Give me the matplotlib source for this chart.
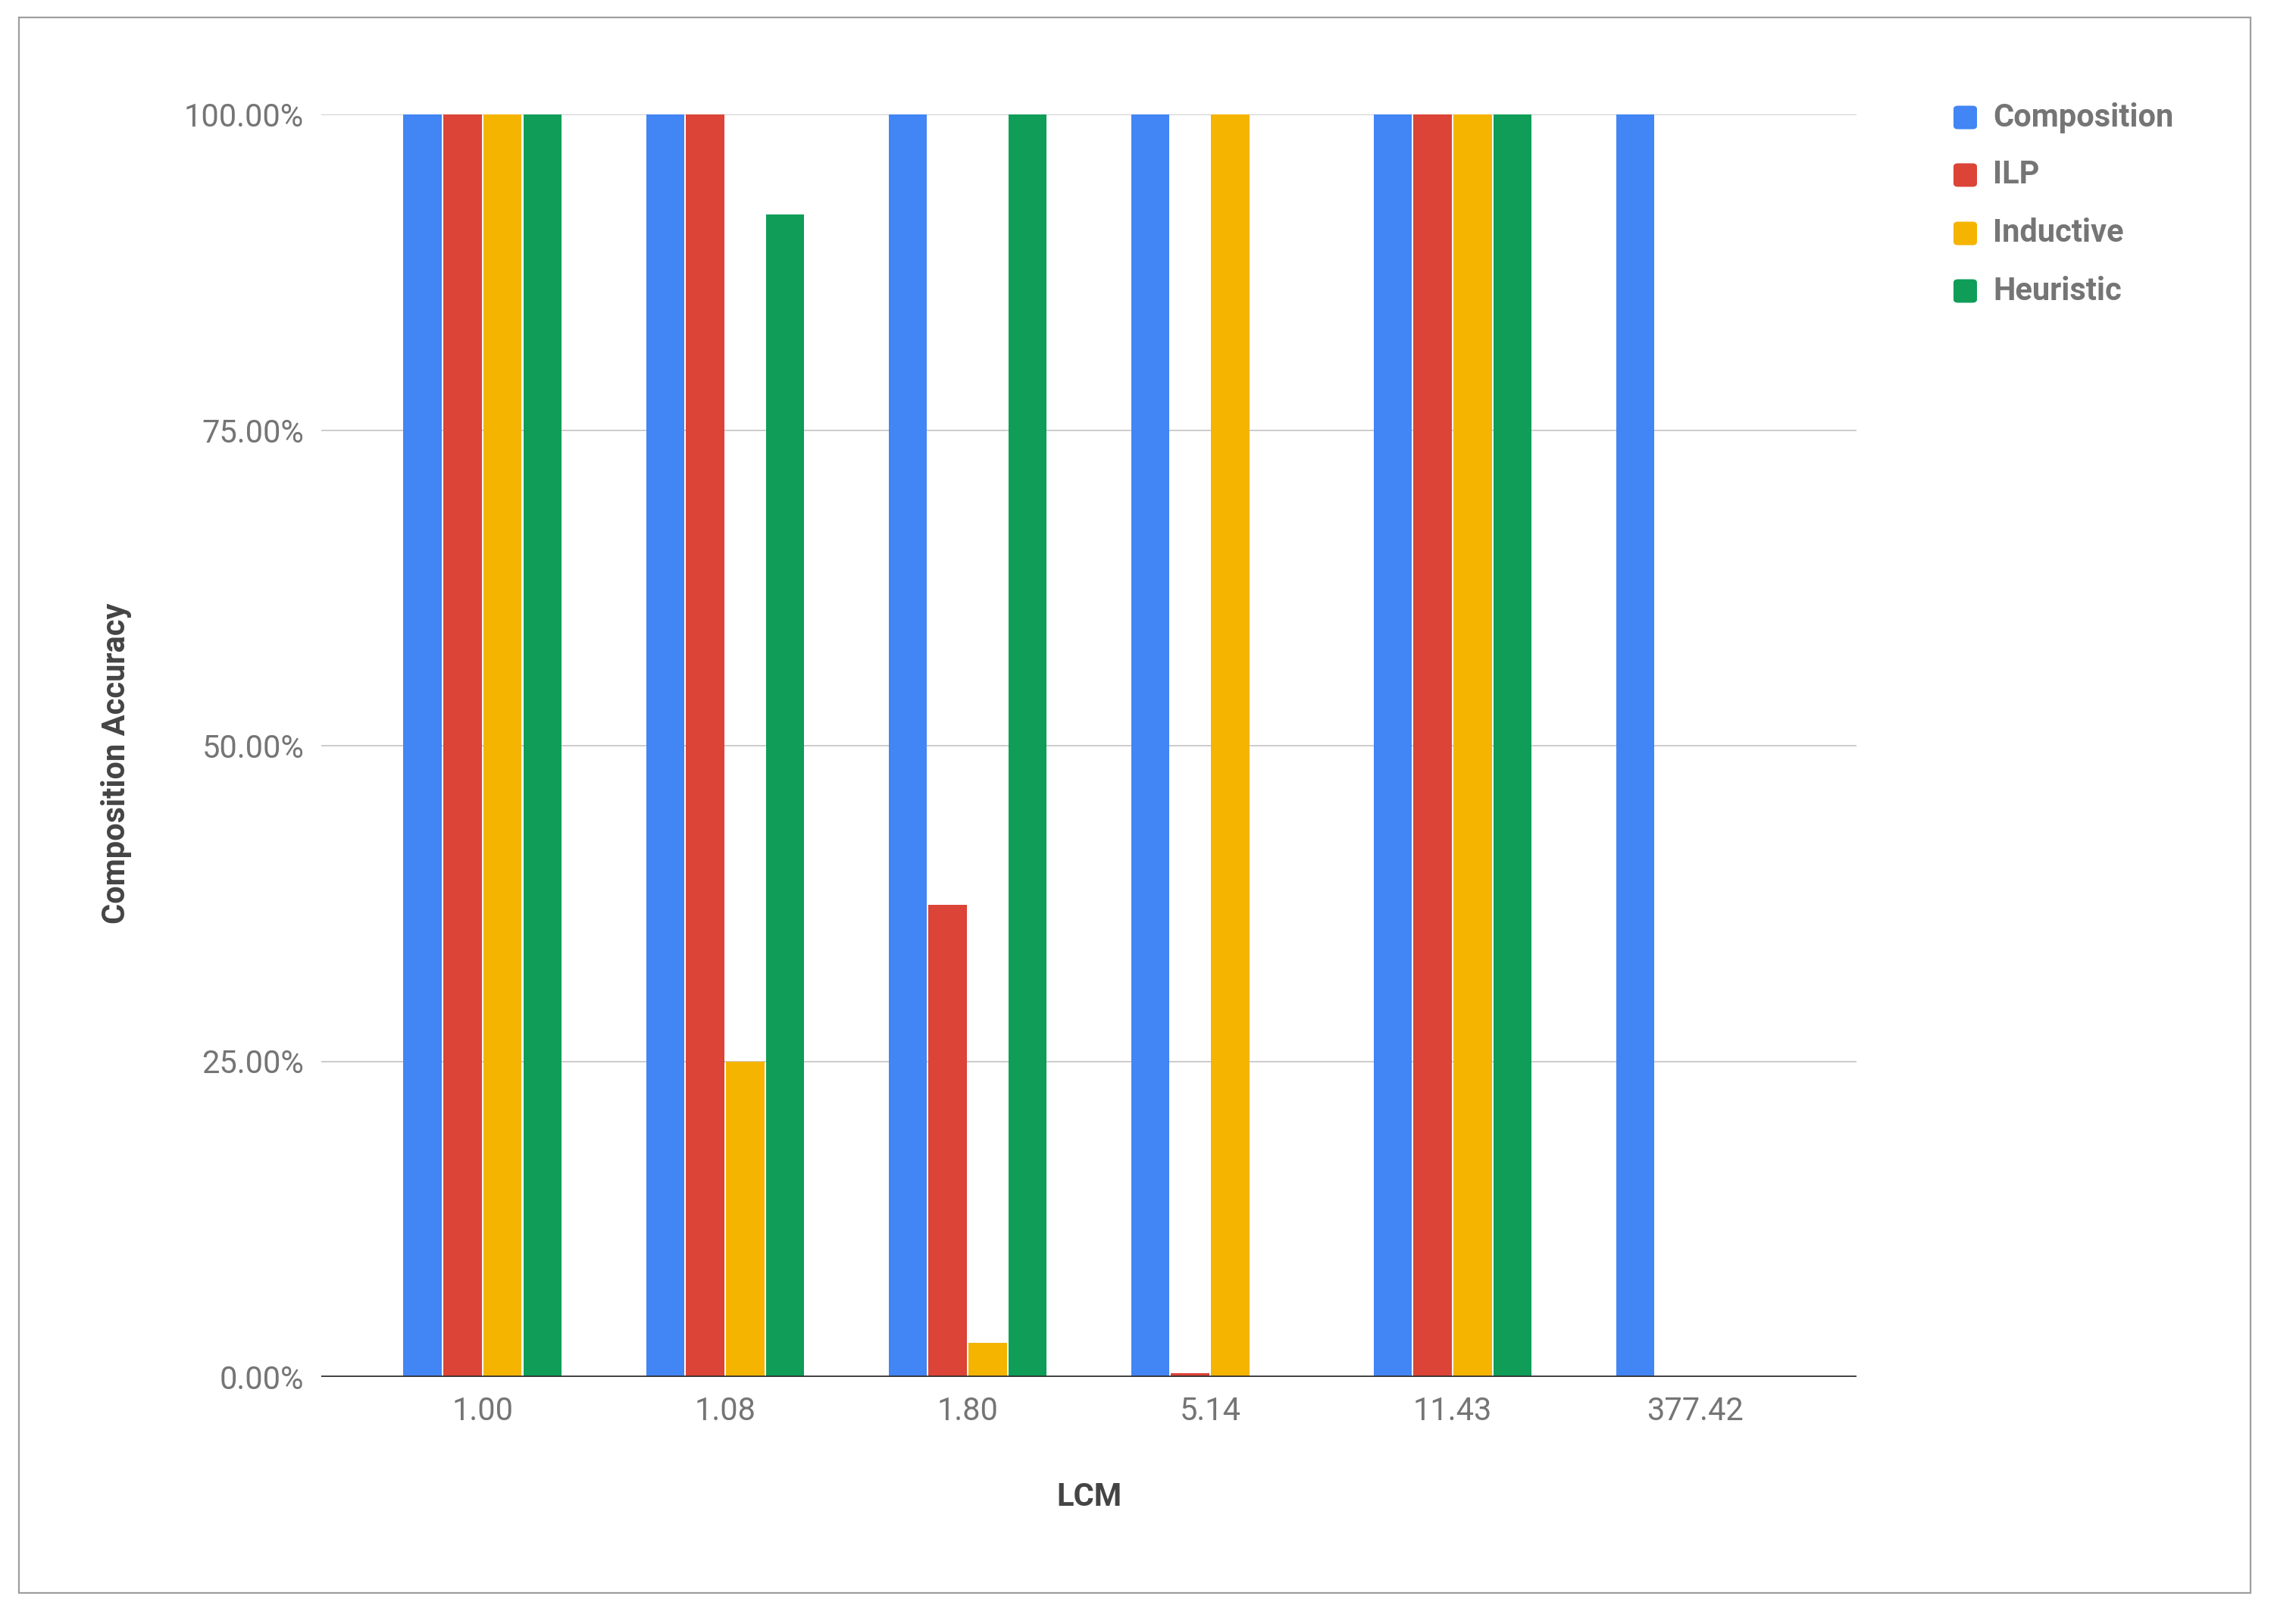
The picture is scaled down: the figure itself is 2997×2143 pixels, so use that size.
import matplotlib
matplotlib.use("Agg")
import matplotlib.pyplot as plt
from matplotlib.patches import Rectangle, FancyBboxPatch
import numpy as np

plt.rcParams['font.family'] = ['Roboto', 'DejaVu Sans']

categories = ["1.00", "1.08", "1.80", "5.14", "11.43", "377.42"]
series_names = ["Composition", "ILP", "Inductive", "Heuristic"]
composition = [100.0, 100.0, 100.0, 100.0, 100.0, 100.0]
ilp = [100.0, 100.0, 37.4, 0.3, 100.0, 0.0]
inductive = [100.0, 25.0, 2.7, 100.0, 100.0, 0.0]
heuristic = [100.0, 92.1, 100.0, 0.0, 100.0, 0.0]
colors = ["#4285F4", "#DB4437", "#F4B400", "#0F9D58"]
yticks = [0, 25, 50, 75, 100]

W, H = 2997, 2143
fig = plt.figure(figsize=(W / 100, H / 100), dpi=100)
fig.patch.set_facecolor("white")

# outer border
fig.patches.append(Rectangle((25 / W, 1 - 2102 / H), (2970 - 25) / W, (2102 - 23) / H,
                             transform=fig.transFigure, fill=False,
                             edgecolor="#9e9e9e", linewidth=1.6))

ax = fig.add_axes([424 / W, 1 - 1817 / H, (2450 - 424) / W, (1817 - 151) / H])
ax.set_xlim(-0.665, 5.665)
ax.set_ylim(0, 100)

x = np.arange(len(categories))
pitch = 0.1647
width = 0.158
data = [composition, ilp, inductive, heuristic]
for i, (vals, c, name) in enumerate(zip(data, colors, series_names)):
    ax.bar(x + (i - 1.5) * pitch, vals, width=width, color=c, edgecolor="none",
           zorder=3, label=name)

ax.set_yticks(yticks)
ax.set_yticklabels([f"{v:.2f}%" for v in yticks])
ax.set_xticks(x)
ax.set_xticklabels(categories)
ax.tick_params(axis="both", length=0, labelsize=30, labelcolor="#757575")
ax.tick_params(axis="y", pad=16.5)
ax.tick_params(axis="x", pad=18)
ax.grid(axis="y", color="#cccccc", linewidth=1.4, zorder=0)
ax.axhline(0, color="#333333", linewidth=2.6, zorder=4)
for s in ax.spines.values():
    s.set_visible(False)

ax.set_xlabel("LCM", fontsize=30, fontweight="bold", color="#444444", labelpad=52)
fig.text(153 / W, 1 - 1007 / H, "Composition Accuracy", rotation=90, fontsize=30,
         fontweight="bold", color="#444444", ha="center", va="center")

# legend
rows = [155, 231, 308, 384]
for name, c, yy in zip(series_names, colors, rows):
    sq = 31
    fig.patches.append(FancyBboxPatch((2578 / W, 1 - (yy + sq / 2) / H), sq / W, sq / H,
                                      boxstyle="round,pad=0,rounding_size=0.002",
                                      transform=fig.transFigure, facecolor=c,
                                      edgecolor="none"))
    fig.text(2630 / W, 1 - yy / H, name, fontsize=30, fontweight="bold",
             color="#757575", ha="left", va="center")

fig.savefig("out.png", dpi=100)
